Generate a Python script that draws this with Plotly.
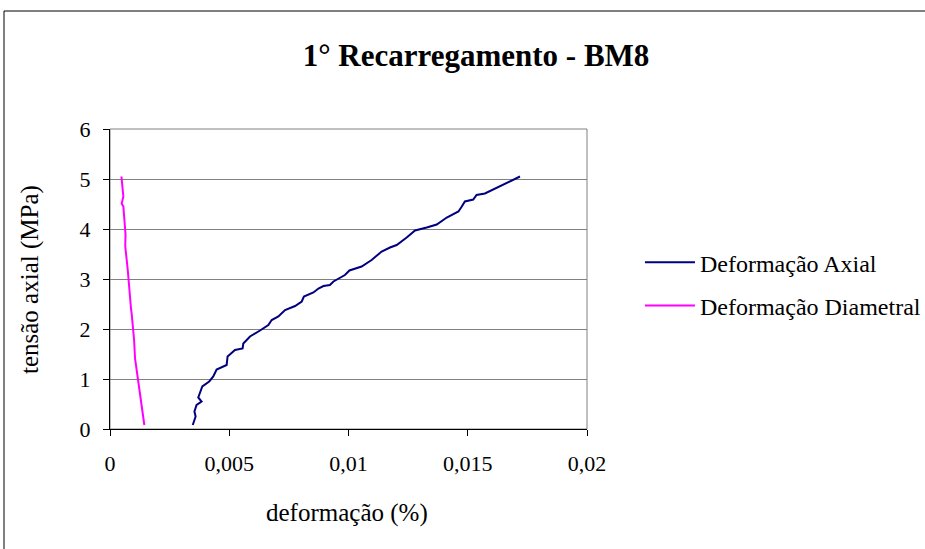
import plotly.graph_objects as go

axial_x = [0.00347, 0.00359, 0.00354, 0.00363, 0.00384, 0.0037, 0.00387, 0.00416, 0.00433, 0.00447,
           0.00489, 0.00493, 0.00524, 0.00556, 0.00559, 0.00587, 0.00629, 0.00664, 0.00678, 0.00706,
           0.00734, 0.00776, 0.00804, 0.00813, 0.00853, 0.00874, 0.00895, 0.00922, 0.00937, 0.00985,
           0.01004, 0.01055, 0.01097, 0.01139, 0.01174, 0.01202, 0.01244, 0.01279, 0.01328, 0.0137,
           0.01412, 0.01461, 0.01475, 0.01488, 0.01523, 0.01537, 0.01572, 0.01607, 0.01656, 0.01691,
           0.01719]
axial_y = [0.08, 0.25, 0.35, 0.48, 0.55, 0.63, 0.85, 0.95, 1.05, 1.19,
           1.28, 1.45, 1.58, 1.61, 1.71, 1.85, 1.97, 2.08, 2.18, 2.25,
           2.38, 2.46, 2.55, 2.65, 2.73, 2.81, 2.86, 2.88, 2.95, 3.08,
           3.17, 3.25, 3.38, 3.55, 3.63, 3.68, 3.83, 3.97, 4.03, 4.09,
           4.23, 4.35, 4.45, 4.55, 4.59, 4.68, 4.71, 4.79, 4.91, 4.99,
           5.05]

diam_x = [0.00144, 0.00139, 0.00137, 0.0013, 0.00127, 0.00123, 0.00119, 0.00116, 0.00109, 0.00105,
          0.00101, 0.00098, 0.00094, 0.00091, 0.00088, 0.00086, 0.00084, 0.00081, 0.00078, 0.00075,
          0.00073, 0.00069, 0.00066, 0.00064, 0.00065, 0.00062, 0.00058, 0.00056, 0.00049, 0.00056,
          0.00052, 0.00049, 0.00048]
diam_y = [0.08, 0.25, 0.38, 0.61, 0.72, 0.85, 0.95, 1.05, 1.25, 1.41,
          1.78, 2.0, 2.18, 2.3, 2.41, 2.55, 2.71, 2.88, 3.05, 3.15,
          3.25, 3.4, 3.51, 3.65, 3.9, 4.11, 4.3, 4.45, 4.51, 4.65,
          4.85, 5.01, 5.05]

x_ticks = [0, 0.005, 0.01, 0.015, 0.02]
x_tick_labels = ["0", "0,005", "0,01", "0,015", "0,02"]
y_ticks = [0, 1, 2, 3, 4, 5, 6]

title_text = "<b>1° Recarregamento - BM8</b>"
x_title = "deformação (%)"
y_title = "tensão axial (MPa)"

FONT = "Liberation Serif, Times New Roman, serif"

fig = go.Figure()
fig.add_trace(go.Scatter(x=axial_x, y=axial_y, mode="lines", name="Deformação Axial",
                         legendgroup="a", line=dict(color="#000080", width=2)))
fig.add_trace(go.Scatter(x=diam_x, y=diam_y, mode="lines", name="Deformação Diametral",
                         legendgroup="b", line=dict(color="#FF00FF", width=2)))

fig.update_layout(
    width=925, height=549,
    margin=dict(l=110, r=338, t=129, b=120, autoexpand=False),
    paper_bgcolor="white", plot_bgcolor="white",
    font=dict(family=FONT, size=22, color="black"),
    title=dict(text=title_text, x=476 / 925, xanchor="center",
               y=1 - 55 / 549, yanchor="middle", font=dict(family=FONT, size=31, color="black")),
    showlegend=True,
    legend=dict(x=1.111, y=0.483, xanchor="left", yanchor="middle", bgcolor="rgba(0,0,0,0)",
                font=dict(family=FONT, size=24), itemwidth=50, tracegroupgap=9),
    xaxis=dict(range=[0, 0.02], tickvals=x_ticks, ticktext=x_tick_labels, showgrid=False,
               zeroline=False, showline=True, linecolor="black", linewidth=1,
               ticks="outside", ticklen=6, tickcolor="black", ticklabelstandoff=9,
               tickfont=dict(family=FONT, size=22)),
    yaxis=dict(range=[0, 6], tickvals=y_ticks, showgrid=True, gridcolor="#808080", gridwidth=1,
               zeroline=False, showline=True, linecolor="black", linewidth=1,
               ticks="outside", ticklen=6, tickcolor="black", ticklabelstandoff=8,
               tickfont=dict(family=FONT, size=22)),
    annotations=[
        dict(text=x_title, xref="paper", yref="paper", x=(347 - 110) / 477, y=(429 - 513) / 300,
             xanchor="center", yanchor="middle", showarrow=False, font=dict(family=FONT, size=25)),
        dict(text=y_title, xref="paper", yref="paper", x=(30 - 110) / 477, y=(429 - 280) / 300,
             xanchor="center", yanchor="middle", textangle=-90, showarrow=False,
             font=dict(family=FONT, size=25)),
    ],
    shapes=[
        dict(type="rect", xref="x domain", yref="y domain", x0=0, x1=1, y0=0, y1=1,
             line=dict(color="#808080", width=1), layer="below"),
        dict(type="rect", xref="paper", yref="paper",
             x0=(4 - 110) / 477, x1=(960 - 110) / 477,
             y0=(429 - 580) / 300, y1=(429 - 11) / 300,
             line=dict(color="black", width=1)),
    ],
)

fig.write_html("out.html", config={"displayModeBar": False},
               post_script="document.body.style.margin='0';document.body.style.overflow='hidden';")
